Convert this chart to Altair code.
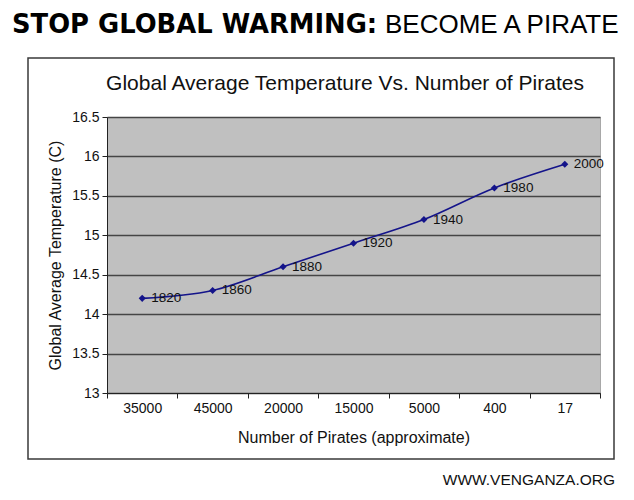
import altair as alt
import pandas as pd

pirates = ["35000", "45000", "20000", "15000", "5000", "400", "17"]
temps = [14.2, 14.3, 14.6, 14.9, 15.2, 15.6, 15.9]
years = ["1820", "1860", "1880", "1920", "1940", "1980", "2000"]
y_ticks = [13, 13.5, 14, 14.5, 15, 15.5, 16, 16.5]

df = pd.DataFrame({"pirates": pirates, "temp": temps, "year": years})
one = pd.DataFrame({"k": [0]})

FONT = "Liberation Sans"
NAVY = "#14148a"

x_enc = alt.X("pirates:N", sort=pirates,
              scale=alt.Scale(type="band", paddingInner=0, paddingOuter=0),
              axis=alt.Axis(title="Number of Pirates (approximate)", labelAngle=0,
                            tickBand="extent", tickSize=5, labelPadding=3,
                            titlePadding=14, titleFontSize=16, labelFontSize=14))
y_enc = alt.Y("temp:Q",
              scale=alt.Scale(domain=[13, 16.5], nice=False, zero=False),
              axis=alt.Axis(title="Global Average Temperature (C)", values=y_ticks,
                            labelExpr="'' + datum.value", tickSize=5, labelPadding=3,
                            titlePadding=8, titleFontSize=16, labelFontSize=14,
                            grid=True))

line = alt.Chart(df).mark_line(color=NAVY, strokeWidth=1.6, interpolate="catmull-rom").encode(x=x_enc, y=y_enc)
pts = alt.Chart(df).mark_point(shape="diamond", filled=True, color=NAVY, size=50, opacity=1).encode(x=x_enc, y=y_enc)
labels = alt.Chart(df).mark_text(align="left", baseline="middle", dx=9, fontSize=13.5, font=FONT, color="#111").encode(
    x=x_enc, y=y_enc, text="year:N")

box = alt.Chart(one).mark_rect(fillOpacity=0, stroke="#3a3a3a", strokeWidth=1.5, clip=False).encode(
    x=alt.value(-79), x2=alt.value(507), y=alt.value(-59), y2=alt.value(342))

head1 = alt.Chart(one).mark_text(text="STOP GLOBAL WARMING:", align="left", baseline="alphabetic",
                                 fontSize=25.8, fontWeight="bold", font="DejaVu Sans", color="#000").encode(
    x=alt.value(-95), y=alt.value(-84))
head2 = alt.Chart(one).mark_text(text="BECOME A PIRATE", align="left", baseline="alphabetic",
                                 fontSize=26, font=FONT, color="#000").encode(
    x=alt.value(278), y=alt.value(-84))
ctitle = alt.Chart(one).mark_text(text="Global Average Temperature Vs. Number of Pirates", align="center",
                                  baseline="alphabetic", fontSize=21, font=FONT, color="#111").encode(
    x=alt.value(238), y=alt.value(-27))
footer = alt.Chart(one).mark_text(text="WWW.VENGANZA.ORG", align="right", baseline="alphabetic",
                                  fontSize=15.5, font=FONT, color="#111").encode(
    x=alt.value(508), y=alt.value(368))

chart = alt.layer(line, pts, labels, box, head1, head2, ctitle, footer).properties(
    width=493, height=276,
    autosize=alt.AutoSizeParams(type="none"),
    padding={"left": 99, "top": 109, "right": 26, "bottom": 100},
    background="white",
).configure_view(fill="#c0c0c0", stroke="#a8a8a8", strokeWidth=1).configure_axis(
    labelFont=FONT, titleFont=FONT, labelColor="#111", titleColor="#111", titleFontWeight="normal",
    domainColor="#222", tickColor="#222", gridColor="#454545", gridWidth=1.6,
).configure_axisX(grid=False)

chart.save("out.html", embed_options={"renderer": "svg", "actions": False})
